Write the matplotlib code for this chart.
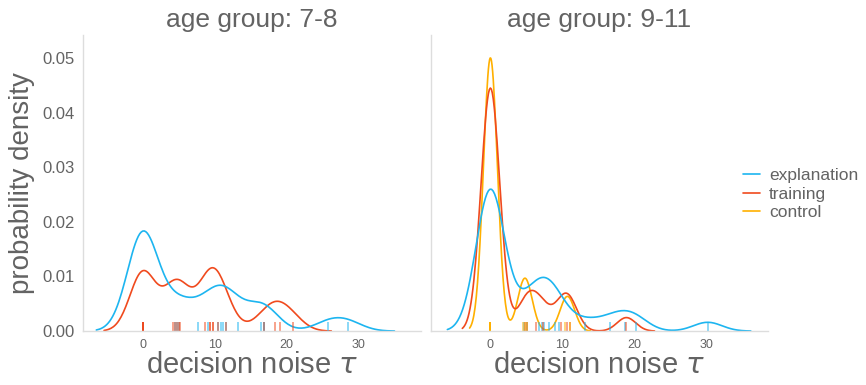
import numpy as np
import pandas as pd
import matplotlib
matplotlib.use("Agg")
import matplotlib.pyplot as plt
import seaborn as sns
from matplotlib.lines import Line2D

# decision noise tau per child (repeats = stacked ticks)
young_explanation = [0.0] * 12 + [4.5, 4.7, 5.0, 7.6, 9.0, 10.4, 10.9, 11.2, 11.5,
                                  13.2, 16.4, 16.8, 16.8, 25.8, 28.5]
young_training = [0.0] * 6 + [4.2, 4.5, 4.7, 5.0, 5.2, 8.7, 9.4, 9.4, 9.8, 9.8,
                              10.4, 11.5, 16.8, 18.4, 19.0, 20.8]
old_explanation = [0.0] * 16 + [4.6, 5.1, 6.75, 7.1, 7.4, 8.1, 9.0, 9.5, 13.2,
                                16.6, 18.7, 20.3, 30.2]
old_training = [0.0] * 18 + [4.8, 5.1, 6.4, 7.35, 9.8, 10.7, 11.1, 18.9]
old_control = [0.0] * 15 + [4.5, 4.8, 5.1, 10.4, 11.0]

age_groups = ["7-8", "9-11"]
conditions = ["explanation", "training", "control"]
colours = {"explanation": "#1DB5F0", "training": "#F04A1E", "control": "#FFB000"}

groups = [
    ("7-8", "explanation", young_explanation),
    ("7-8", "training", young_training),
    ("9-11", "explanation", old_explanation),
    ("9-11", "training", old_training),
    ("9-11", "control", old_control),
]
rows = []
for age, cond, vals in groups:
    for v in vals:
        rows.append({"tau": v, "age": age, "condition": cond})
df = pd.DataFrame(rows)

sns.set_style("white")
plt.rcParams["font.family"] = ["Liberation Sans", "DejaVu Sans"]
text_grey = "#636363"

g = sns.displot(df, x="tau", hue="condition", col="age", kind="kde", rug=True,
                bw_adjust=0.5, hue_order=conditions, col_order=age_groups,
                palette=colours, linewidth=1.2,
                rug_kws=dict(alpha=0.65, height=0.03, linewidth=1.1),
                height=3.85, aspect=1.0)
g._legend.remove()

fig = g.figure
fig.set_size_inches(8.66, 3.85)
fig.subplots_adjust(left=0.096, right=0.887, bottom=0.14, top=0.909, wspace=0.03)

g.set_titles("age group: {col_name}", size=19, color=text_grey)
for i, ax in enumerate(g.axes.flat):
    ax.set_xlim(-8.3, 38.6)
    ax.set_ylim(0, 0.0542)
    ax.set_xticks([0, 10, 20, 30])
    ax.set_yticks([0, 0.01, 0.02, 0.03, 0.04, 0.05])
    ax.tick_params(length=0, colors=text_grey)
    ax.tick_params(axis="x", labelsize=9, pad=6)
    ax.tick_params(axis="y", labelsize=12, pad=6)
    for side in ["left", "bottom"]:
        ax.spines[side].set_color("#dddddd")
        ax.spines[side].set_linewidth(1.0)
    ax.set_xlabel("decision noise $\\tau$", fontsize=21, color=text_grey, labelpad=0)
    if i == 0:
        ax.set_ylabel("probability density", fontsize=20, color=text_grey, labelpad=5)
        ax.yaxis.set_major_formatter(matplotlib.ticker.FormatStrFormatter("%.2f"))
    else:
        ax.set_ylabel("")

handles = [Line2D([0], [0], color=colours[c], lw=1.2) for c in conditions]
fig.legend(handles, conditions, loc="center left", bbox_to_anchor=(0.84, 0.496),
           frameon=False, fontsize=12.5, handlelength=1.0, handletextpad=0.5,
           labelspacing=0.2, labelcolor=text_grey)

fig.savefig("out.png", dpi=100)
